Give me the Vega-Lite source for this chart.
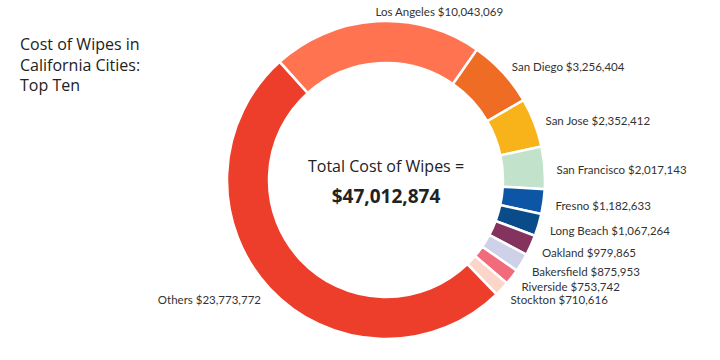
{
  "$schema": "https://vega.github.io/schema/vega-lite/v6.json",
  "width": 668,
  "height": 360,
  "autosize": {"type": "none"},
  "padding": {"left": 52, "top": 0, "right": 0, "bottom": 0},
  "background": "white",
  "title": {
    "text": ["Cost of Wipes in", "California Cities:", "Top Ten"],
    "anchor": "start",
    "frame": "group",
    "dx": -32,
    "dy": 98,
    "font": "Open Sans",
    "fontSize": 16,
    "fontWeight": "normal",
    "lineHeight": 20.5,
    "color": "#222222"
  },
  "layer": [
    {
      "data": {
        "values": [
          {"rank": 1, "city": "Los Angeles", "value": 10043069},
          {"rank": 2, "city": "San Diego", "value": 3256404},
          {"rank": 3, "city": "San Jose", "value": 2352412},
          {"rank": 4, "city": "San Francisco", "value": 2017143},
          {"rank": 5, "city": "Fresno", "value": 1182633},
          {"rank": 6, "city": "Long Beach", "value": 1067264},
          {"rank": 7, "city": "Oakland", "value": 979865},
          {"rank": 8, "city": "Bakersfield", "value": 875953},
          {"rank": 9, "city": "Riverside", "value": 753742},
          {"rank": 10, "city": "Stockton", "value": 710616},
          {"rank": 11, "city": "Others", "value": 23773772}
        ]
      },
      "transform": [
        {"calculate": "datum.city + ' ' + format(datum.value, '$,')", "as": "label"}
      ],
      "encoding": {
        "theta": {"field": "value", "type": "quantitative", "stack": true,
          "scale": {"range": [-0.733, 5.550]}},
        "order": {"field": "rank", "type": "quantitative"}
      },
      "layer": [
        {
          "mark": {"type": "arc", "radius": 159, "radius2": 117, "stroke": "white", "strokeWidth": 2.5},
          "encoding": {
            "color": {
              "field": "city", "type": "nominal", "legend": null,
              "scale": {
                "domain": ["Los Angeles", "San Diego", "San Jose", "San Francisco", "Fresno", "Long Beach", "Oakland", "Bakersfield", "Riverside", "Stockton", "Others"],
                "range": ["#FF7350", "#EF6C24", "#F9B31A", "#C3E2CB", "#0D56A6", "#0A4B89", "#84335F", "#CFD1E8", "#F26B7A", "#FBD5C8", "#EC3E2B"]
              }
            }
          }
        },
        {
          "mark": {"type": "text", "radius": 171, "font": "Lato", "fontSize": 11.5, "color": "#333333", "baseline": "middle", "dy": 4,
            "align": {"expr": "datum.city == 'Others' ? 'right' : 'left'"}},
          "encoding": {"text": {"field": "label", "type": "nominal"}}
        }
      ]
    },
    {
      "data": {"values": [{"line1": "Total Cost of Wipes =", "line2": "$47,012,874"}]},
      "layer": [
        {
          "mark": {"type": "text", "font": "Open Sans", "fontSize": 16, "color": "#222222", "dy": -13, "baseline": "middle", "align": "center"},
          "encoding": {"text": {"field": "line1", "type": "nominal"}}
        },
        {
          "mark": {"type": "text", "font": "Open Sans", "fontSize": 19, "fontWeight": "bold", "color": "#222222", "dy": 17, "baseline": "middle", "align": "center"},
          "encoding": {"text": {"field": "line2", "type": "nominal"}}
        }
      ]
    }
  ]
}
